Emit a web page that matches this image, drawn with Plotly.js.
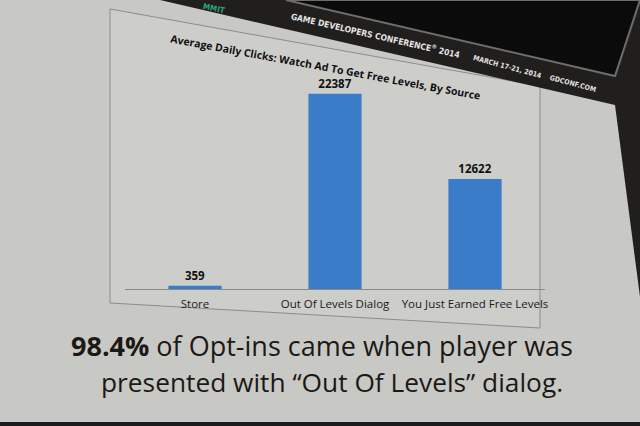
<!DOCTYPE html>
<html><head><meta charset="utf-8">
<script src="https://cdn.plot.ly/plotly-3.0.1.min.js"></script>
<style>html,body{margin:0;padding:0;background:#c6c6c3;}#chart{width:640px;height:426px;}</style>
</head><body><div id="chart"></div>
<script>
const categories = ["Store", "Out Of Levels Dialog", "You Just Earned Free Levels"];
const clicks = [359, 22387, 12622];
const valueLabels = ["359", "22387", "12622"];
const chartTitle = "Average Daily Clicks: Watch Ad To Get Free Levels, By Source";
const captionLine1 = "<b>98.4%</b> of Opt-ins came when player was";
const captionLine2 = "presented with \u201cOut Of Levels\u201d dialog.";
const headerMain = "GAME DEVELOPERS CONFERENCE<sup>\u00ae</sup> 2014";
const headerDate = "MARCH 17-21, 2014";
const headerSite = "GDCONF.COM";
const headerSummit = "MMIT";

// pixel -> paper helpers (plot area: x 125..545, y 71..289)
const PL = 125, PW = 420, PB = 289, PH = 218;
const px = v => (v - PL) / PW;
const py = v => (PB - v) / PH;
const pt = (x, y) => px(x).toFixed(4) + " " + py(y).toFixed(4);

const trace = {
  type: "bar", x: categories, y: clicks, text: valueLabels,
  textposition: "outside", cliponaxis: false,
  textfont: {family: "Open Sans, sans-serif", size: 11.5, color: "#111", weight: 700},
  marker: {color: "#3b7cc8", line: {width: 0}}, width: 0.38, hoverinfo: "none"
};
const layout = {
  width: 640, height: 426,
  margin: {l: PL, r: 640 - PL - PW, t: PB - PH, b: 426 - PB},
  paper_bgcolor: "#c8c8c5", plot_bgcolor: "rgba(0,0,0,0)",
  showlegend: false,
  xaxis: {showline: true, linecolor: "#8a8a8a", linewidth: 1, ticks: "", showgrid: false,
          ticklabelstandoff: 4,
          tickfont: {family: "Open Sans, sans-serif", size: 11.5, color: "#1a1a1a"}},
  yaxis: {range: [0, 25000], visible: false, showgrid: false, zeroline: false},
  shapes: [
    {type: "path", xref: "paper", yref: "paper",
     path: "M " + pt(110, 9) + " L " + pt(540, 86) + " L " + pt(540, 328) + " L " + pt(110, 303) + " Z",
     fillcolor: "#cdcdca", line: {color: "#8c8c8a", width: 1}, layer: "below"},
    {type: "path", xref: "paper", yref: "paper",
     path: "M " + pt(160, 0) + " L " + pt(640, 0) + " L " + pt(640, 297) + " L " + pt(615, 105) + " Z",
     fillcolor: "#211f1d", line: {width: 0}, layer: "below"},
    {type: "path", xref: "paper", yref: "paper",
     path: "M " + pt(286, 0) + " L " + pt(615, 76) + " L " + pt(640, 0) + " Z",
     fillcolor: "#0b0b0b", line: {color: "#6d6d6b", width: 2}, layer: "below"},
    {type: "rect", xref: "paper", yref: "paper", x0: px(0), x1: px(640), y0: py(426), y1: py(422),
     fillcolor: "#1a1c22", line: {width: 0}, layer: "below"}
  ],
  annotations: [
    {text: "<b>" + chartTitle + "</b>", xref: "paper", yref: "paper", x: px(325), y: py(67),
     xanchor: "center", yanchor: "middle", showarrow: false, textangle: 10.5,
     font: {family: "Open Sans, sans-serif", size: 10.5, color: "#111"}},
    {text: headerMain, xref: "paper", yref: "paper", x: px(375), y: py(35), xanchor: "center", yanchor: "middle",
     showarrow: false, textangle: 13,
     font: {family: "DejaVu Sans Condensed, DejaVu Sans, sans-serif", size: 8.5, color: "#e4e4e4", weight: 700}},
    {text: headerDate, xref: "paper", yref: "paper", x: px(507), y: py(67), xanchor: "center", yanchor: "middle",
     showarrow: false, textangle: 15,
     font: {family: "DejaVu Sans Condensed, DejaVu Sans, sans-serif", size: 7, color: "#e4e4e4", weight: 700}},
    {text: headerSite, xref: "paper", yref: "paper", x: px(573), y: py(84), xanchor: "center", yanchor: "middle",
     showarrow: false, textangle: 15,
     font: {family: "DejaVu Sans Condensed, DejaVu Sans, sans-serif", size: 7, color: "#e4e4e4", weight: 700}},
    {text: headerSummit, xref: "paper", yref: "paper", x: px(214), y: py(8), xanchor: "center", yanchor: "middle",
     showarrow: false, textangle: 12,
     font: {family: "DejaVu Sans Condensed, DejaVu Sans, sans-serif", size: 8, color: "#2e9f7c", weight: 700}},
    {text: captionLine1, xref: "paper", yref: "paper", x: px(322), y: py(345), xanchor: "center", yanchor: "middle",
     showarrow: false, font: {family: "Open Sans, sans-serif", size: 27, color: "#1c1915"}},
    {text: captionLine2, xref: "paper", yref: "paper", x: px(332), y: py(382), xanchor: "center", yanchor: "middle",
     showarrow: false, font: {family: "Open Sans, sans-serif", size: 26.3, color: "#1c1915"}}
  ]
};
Plotly.newPlot("chart", [trace], layout, {displayModeBar: false, staticPlot: true});
</script></body></html>
